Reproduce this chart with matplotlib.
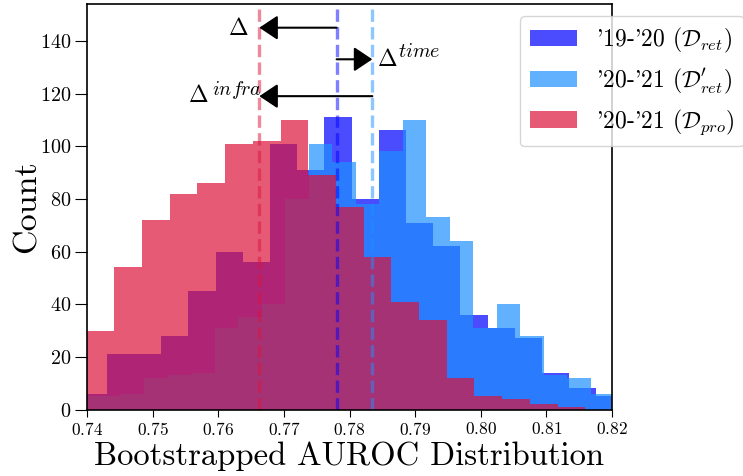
import numpy as np
import matplotlib
matplotlib.use("Agg")
import matplotlib.pyplot as plt

plt.rcParams['font.family'] = 'serif'
plt.rcParams['font.serif'] = ['cmr10']
plt.rcParams['mathtext.fontset'] = 'cm'
plt.rcParams['axes.formatter.use_mathtext'] = True

# histogram counts (bootstrapped AUROC)
ret_counts = [6, 21, 21, 28, 45, 60, 56, 101, 91, 111,
              80, 106, 71, 62, 36, 31, 27, 14, 8, 5]
ret_range = (0.73886, 0.82175)

ret2_counts = [5, 5, 6, 12, 13, 14, 31, 35, 40, 80, 101, 94,
               78, 98, 110, 73, 64, 31, 40, 28, 13, 12, 6]
ret2_range = (0.73796, 0.82032)

pro_counts = [30, 54, 72, 82, 86, 101, 102, 110, 89, 77,
              58, 41, 34, 12, 5, 4, 2, 1]
pro_range = (0.73994, 0.81592)

# means of each distribution
ret_mean = 0.77804
ret2_mean = 0.78348
pro_mean = 0.76626

labels = [r"'19-'20 ($\mathcal{D}_{ret}$)",
          r"'20-'21 ($\mathcal{D}^{\prime}_{ret}$)",
          r"'20-'21 ($\mathcal{D}_{pro}$)"]
colors = ['blue', 'dodgerblue', 'crimson']


def draw_hist(ax, counts, rng, color, label):
    edges = np.linspace(rng[0], rng[1], len(counts) + 1)
    centers = (edges[:-1] + edges[1:]) / 2
    ax.hist(centers, bins=edges, weights=counts, color=color, alpha=0.7, label=label)


fig = plt.figure(figsize=(7.43, 4.76), dpi=100)
ax = fig.add_axes([0.1171, 0.1397, 0.7066, 0.8519])

draw_hist(ax, ret_counts, ret_range, colors[0], labels[0])
draw_hist(ax, ret2_counts, ret2_range, colors[1], labels[1])
draw_hist(ax, pro_counts, pro_range, colors[2], labels[2])

ax.axvline(ret_mean, color=colors[0], ls='--', lw=2.4, alpha=0.5)
ax.axvline(ret2_mean, color=colors[1], ls='--', lw=2.4, alpha=0.5)
ax.axvline(pro_mean, color=colors[2], ls='--', lw=2.4, alpha=0.5)

# arrows between the means
arrow = dict(arrowstyle='-|>,head_length=0.45,head_width=0.3', color='black',
             lw=1.5, mutation_scale=25, shrinkA=0, shrinkB=0)
ax.annotate('', xy=(pro_mean, 145), xytext=(ret_mean, 145), arrowprops=arrow)
ax.annotate('', xy=(ret2_mean, 133), xytext=(ret_mean, 133), arrowprops=arrow)
ax.annotate('', xy=(pro_mean, 119), xytext=(ret2_mean, 119), arrowprops=arrow)

ax.text(0.76458, 142.1, r'$\Delta$', fontsize=17, ha='right', va='baseline')
ax.text(0.78414, 130.5, r'$\Delta$', fontsize=17, ha='left', va='baseline')
ax.text(0.78739, 133.7, r'$time$', fontsize=14.5, ha='left', va='baseline')
ax.text(0.75539, 116.8, r'$\Delta$', fontsize=17, ha='left', va='baseline')
ax.text(0.75905, 119.6, r'$infra$', fontsize=14.5, ha='left', va='baseline')

ax.set_xlim(0.74, 0.82)
ax.set_ylim(0, 154)
ax.set_xticks([0.74, 0.75, 0.76, 0.77, 0.78, 0.79, 0.80, 0.81, 0.82])
ax.set_yticks(range(0, 141, 20))
ax.tick_params(axis='x', labelsize=12.5, length=5)
ax.tick_params(axis='y', labelsize=14.5, length=9, pad=2)
for s in ax.spines.values():
    s.set_linewidth(1.2)

ax.set_xlabel('Bootstrapped AUROC Distribution', fontsize=23.5, labelpad=2)
ax.set_ylabel('Count', fontsize=24.5)
ax.yaxis.set_label_coords(-0.087, 0.5)

ax.legend(loc='upper left', bbox_to_anchor=(0.825, 0.97), borderaxespad=0,
          fontsize=17)

fig.savefig('out.png', dpi=100)
